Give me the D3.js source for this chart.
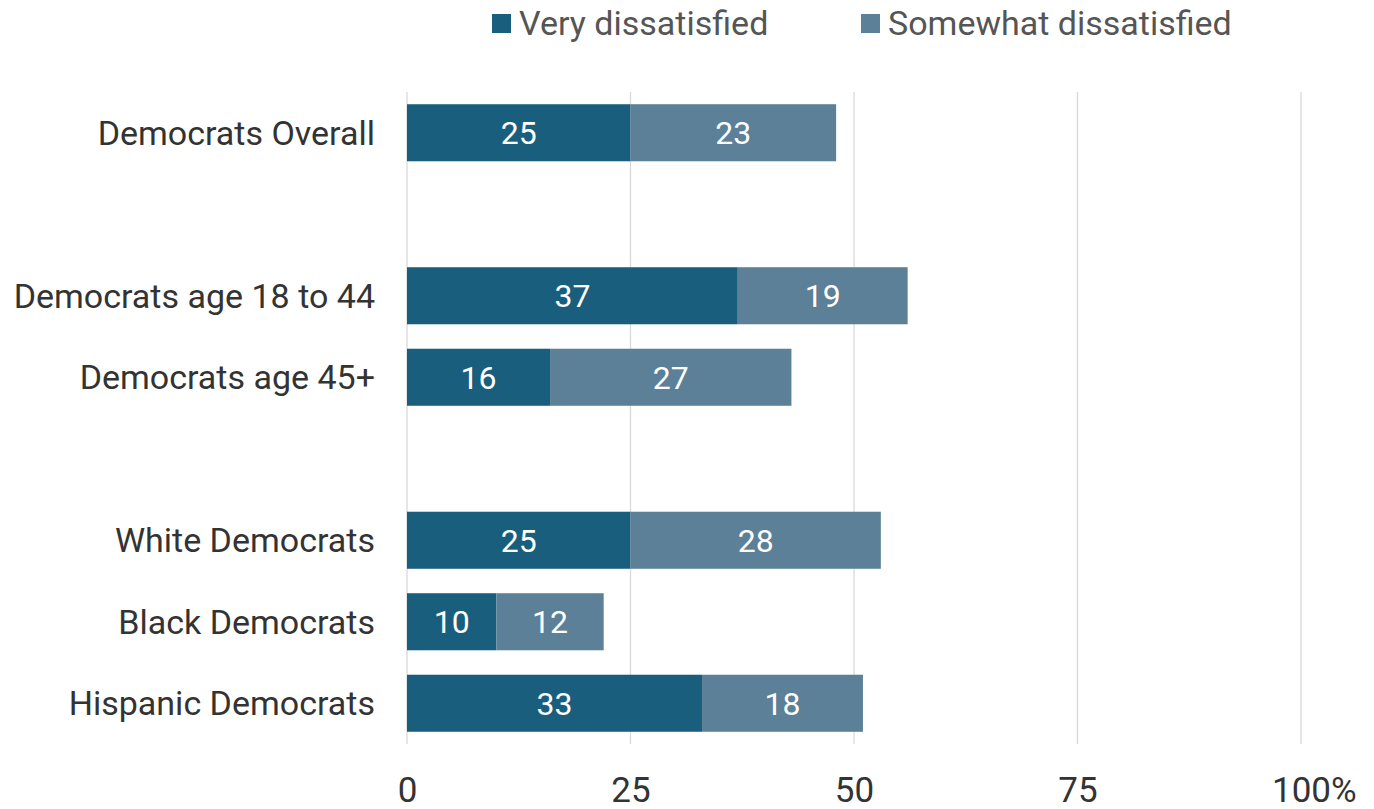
<!DOCTYPE html>
<html><head><meta charset="utf-8">
<script src="https://cdn.jsdelivr.net/npm/d3@7"></script>
<style>body{margin:0;background:#fff}svg{display:block}text{font-family:Roboto,"Noto Sans",sans-serif}</style>
</head><body><svg id="c" width="1374" height="809"></svg>
<script>
const categories = ["Democrats Overall", "", "Democrats age 18 to 44", "Democrats age 45+", " ", "White Democrats", "Black Democrats", "Hispanic Democrats"];
const veryDissatisfied = [25, null, 37, 16, null, 25, 10, 33];
const somewhatDissatisfied = [23, null, 19, 27, null, 28, 12, 18];
const seriesNames = ["Very dissatisfied", "Somewhat dissatisfied"];
const tickValues = [0, 25, 50, 75, 100];
const tickLabels = ["0", "25", "50", "75", "100"];
const tickSuffix = ["", "", "", "", "%"];
const colors = ["#1a5e7d", "#5b8097"];

const svg = d3.select("#c");
const x = d3.scaleLinear().domain([0, 100]).range([407, 1301]);
const y = d3.scaleBand().domain(categories).range([92, 744]).paddingInner(0.3).paddingOuter(0.15);

// gridlines
svg.append("g").selectAll("line").data(tickValues).join("line")
  .attr("x1", d => x(d)).attr("x2", d => x(d))
  .attr("y1", 92).attr("y2", 744)
  .attr("stroke", "#d9d9d9").attr("stroke-width", 1.3);

// tick labels
const xAxis = d3.axisBottom(x).tickValues(tickValues).tickFormat((d, i) => tickLabels[i]).tickSize(0).tickPadding(0);
const ax = svg.append("g").attr("transform", "translate(0,777)").call(xAxis);
ax.select(".domain").remove();
ax.selectAll("text").attr("font-size", 35).attr("fill", "#333").attr("dy", "0.71em")
  .style("font-family", "Roboto, sans-serif")
  .each(function(d, i) {
    const t = d3.select(this);
    if (tickSuffix[i]) {
      const w = this.getComputedTextLength();
      t.attr("text-anchor", "start").attr("x", -w / 2);
      t.append("tspan").text(tickSuffix[i]);
    }
  });

const rows = categories.map((c, i) => ({c, v: [veryDissatisfied[i], somewhatDissatisfied[i]]})).filter(r => r.v[0] != null);

const segs = [];
rows.forEach(r => {
  let acc = 0;
  r.v.forEach((v, k) => { segs.push({c: r.c, x0: acc, x1: acc + v, v, k}); acc += v; });
});

svg.append("g").selectAll("rect").data(segs).join("rect")
  .attr("x", d => x(d.x0)).attr("width", d => x(d.x1) - x(d.x0))
  .attr("y", d => y(d.c)).attr("height", y.bandwidth())
  .attr("fill", d => colors[d.k]);

svg.append("g").selectAll("text").data(segs).join("text")
  .attr("x", d => (x(d.x0) + x(d.x1)) / 2).attr("y", d => y(d.c) + y.bandwidth() / 2)
  .attr("text-anchor", "middle").attr("dy", "0.36em")
  .attr("font-size", 32).attr("fill", "#fff").text(d => d.v);

// category labels
svg.append("g").selectAll("text").data(rows).join("text")
  .attr("x", 375).attr("y", d => y(d.c) + y.bandwidth() / 2)
  .attr("text-anchor", "end").attr("dy", "0.36em")
  .attr("font-size", 34).attr("fill", "#333").text(d => d.c);

// legend
const legendX = [492, 861];
const lg = svg.append("g").selectAll("g").data(seriesNames).join("g")
  .attr("transform", (d, i) => `translate(${legendX[i]},0)`);
lg.append("rect").attr("x", 0).attr("y", 14).attr("width", 19).attr("height", 19).attr("fill", (d, i) => colors[i]);
lg.append("text").attr("x", 27).attr("y", 23).attr("dy", "0.36em").attr("font-size", 34)
  .attr("fill", "#555").text(d => d);
</script></body></html>
